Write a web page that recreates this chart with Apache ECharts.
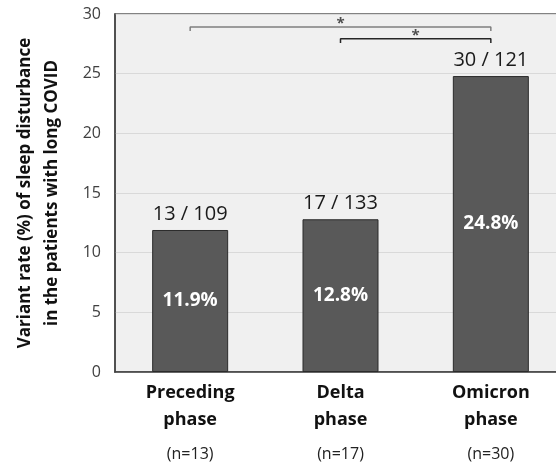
<!DOCTYPE html>
<html>
<head>
<meta charset="utf-8">
<script src="https://cdn.jsdelivr.net/npm/echarts@6/dist/echarts.min.js"></script>
<style>html,body{margin:0;padding:0;background:#fff}#c{width:556px;height:465px}</style>
</head>
<body>
<div id="c"></div>
<script>
const categories = ['Preceding\nphase', 'Delta\nphase', 'Omicron\nphase'];
const groupN = ['(n=13)', '(n=17)', '(n=30)'];
const rates = [11.9, 12.8, 24.8];
const counts = ['13 / 109', '17 / 133', '30 / 121'];
const yTicks = [0, 5, 10, 15, 20, 25, 30];
const comparisons = [
  { from: 0, to: 2, level: 28.92, tick: 0.34, label: '*', color: '#7f7f7f' },
  { from: 1, to: 2, level: 27.92, tick: 0.34, label: '*', color: '#262626' }
];

const FONT = '"Open Sans", sans-serif';
const chart = echarts.init(document.getElementById('c'));

const bracketSeries = comparisons.map(c => ({
  type: 'line', xAxisIndex: 1, yAxisIndex: 0, symbol: 'none', silent: true,
  lineStyle: { color: c.color, width: 1.5 },
  data: [[c.from, c.level - c.tick], [c.from, c.level], [c.to, c.level], [c.to, c.level - c.tick]],
  z: 5
}));
const starSeries = {
  type: 'scatter', xAxisIndex: 1, yAxisIndex: 0, symbolSize: 0, silent: true,
  data: comparisons.map(c => [(c.from + c.to) / 2, c.level]),
  label: { show: true, position: 'top', distance: -4, formatter: p => comparisons[p.dataIndex].label,
    fontSize: 15, fontWeight: 'bold', color: '#262626', fontFamily: FONT },
  z: 6
};

chart.setOption({
  animation: false,
  textStyle: { fontFamily: FONT },
  grid: { left: 115, top: 14, bottom: 93, right: -10, show: true, backgroundColor: '#f0f0f0',
    borderColor: '#595959', borderWidth: 1.5, containLabel: false, outerBoundsMode: 'none' },
  xAxis: [{
    type: 'category', data: categories,
    axisLine: { lineStyle: { color: '#404040', width: 1.5 } },
    axisTick: { show: false },
    axisLabel: {
      margin: 7, interval: 0,
      formatter: (v, i) => v.split('\n').map(s => '{b|' + s + '}').join('\n') + '\n{n|' + groupN[i] + '}',
      rich: {
        b: { fontSize: 18, fontWeight: 'bold', color: '#111', lineHeight: 27, fontFamily: FONT },
        n: { fontSize: 16, color: '#222', lineHeight: 43, fontFamily: FONT }
      }
    }
  }, {
    type: 'value', min: -0.5, max: 2.5, show: false
  }],
  yAxis: {
    type: 'value', min: yTicks[0], max: yTicks[yTicks.length - 1], interval: 5,
    name: 'Variant rate (%) of sleep disturbance\nin the patients with long COVID',
    nameLocation: 'middle', nameGap: 49,
    nameTextStyle: { fontSize: 17, fontWeight: 'bold', color: '#111', lineHeight: 27, fontFamily: FONT },
    axisLine: { show: true, onZero: false, lineStyle: { color: '#404040', width: 1.5 } },
    axisTick: { show: false },
    axisLabel: { fontSize: 16, color: '#404040', margin: 14, fontFamily: FONT },
    splitLine: { lineStyle: { color: '#d9d9d9', width: 1 } }
  },
  series: [{
    type: 'bar', data: rates, barWidth: 76,
    itemStyle: { color: '#595959', borderColor: '#2b2b2b', borderWidth: 1 },
    label: { show: true, position: 'inside', formatter: p => p.value + '%', color: '#fff',
      fontSize: 19, fontWeight: 'bold', fontFamily: FONT },
    z: 3
  }, {
    type: 'bar', data: rates, barWidth: 76, barGap: '-100%',
    itemStyle: { color: 'transparent' },
    label: { show: true, position: 'top', distance: 6, formatter: p => counts[p.dataIndex],
      color: '#1a1a1a', fontSize: 20, fontFamily: FONT },
    z: 4
  }, ...bracketSeries, starSeries]
});
</script>
</body>
</html>
